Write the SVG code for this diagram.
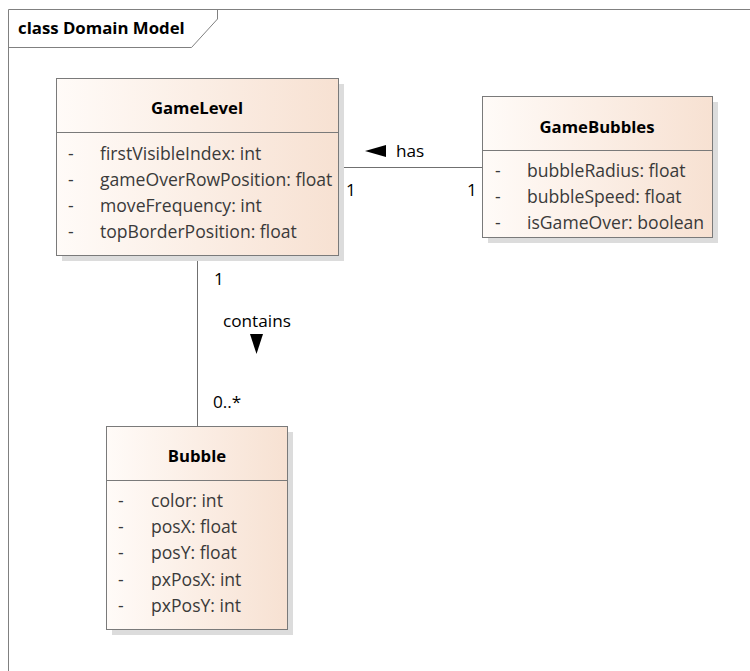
<svg xmlns="http://www.w3.org/2000/svg" width="750" height="671" viewBox="0 0 750 671">
<defs>
  <linearGradient id="fill" x1="0" y1="0" x2="1" y2="0">
    <stop offset="0" stop-color="#fffbf8"/>
    <stop offset="1" stop-color="#f7e1d2"/>
  </linearGradient>
</defs>
<style>
  .frame { fill: none; stroke: #808080; stroke-width: 1; }
  .title { font-family: "Open Sans", "Noto Sans", sans-serif; font-weight: bold; font-size: 16.8px; fill: #000; }
  .shadow { fill: #dcdcdc; }
  .box { fill: url(#fill); stroke: #7a7a7a; stroke-width: 1; }
  .sep { stroke: #7a7a7a; stroke-width: 1; }
  .cname { font-family: "Open Sans", "Noto Sans", sans-serif; font-weight: bold; font-size: 16.7px; fill: #000; text-anchor: middle; }
  .attr { font-family: "Open Sans", "Noto Sans", sans-serif; font-size: 17.6px; fill: #3a3a3a; }
  .conn { stroke: #707070; stroke-width: 1; fill: none; }
  .lbl { font-family: "Open Sans", "Noto Sans", sans-serif; font-size: 17.2px; fill: #000; }
  .arrow { fill: #000; }
</style>

<g id="frame">
  <path class="frame" d="M8.5,671 V9.5 H750"/>
  <path class="frame" d="M8.5,47.5 H191.5 L217.5,19 V9.5"/>
  <text class="title" x="18" y="34">class Domain Model</text>
</g>

<g id="connectors">
  <line class="conn" x1="338" y1="167.5" x2="482" y2="167.5"/>
  <line class="conn" x1="197.5" y1="255" x2="197.5" y2="426"/>
  <polygon class="arrow" points="365,151 386,145 386,157"/>
  <text class="lbl" x="396" y="157">has</text>
  <text class="lbl" x="346" y="196">1</text>
  <text class="lbl" x="467" y="196">1</text>
  <polygon class="arrow" points="250,334 263,334 256.5,354"/>
  <text class="lbl" x="223" y="327">contains</text>
  <text class="lbl" x="214" y="285">1</text>
  <text class="lbl" x="213" y="408">0..*</text>
</g>

<g id="GameLevel">
  <rect class="shadow" x="62" y="84" width="282" height="177"/>
  <rect class="box" x="56.5" y="78.5" width="282" height="177"/>
  <line class="sep" x1="56.5" y1="132.5" x2="338.5" y2="132.5"/>
  <text class="cname" x="197" y="114">GameLevel</text>
  <text class="attr" x="68" y="160">-</text>
  <text class="attr" x="100" y="160">firstVisibleIndex: int</text>
  <text class="attr" x="68" y="186">-</text>
  <text class="attr" x="100" y="186">gameOverRowPosition: float</text>
  <text class="attr" x="68" y="212">-</text>
  <text class="attr" x="100" y="212">moveFrequency: int</text>
  <text class="attr" x="68" y="238">-</text>
  <text class="attr" x="100" y="238">topBorderPosition: float</text>
</g>

<g id="GameBubbles">
  <rect class="shadow" x="488" y="102" width="230" height="141"/>
  <rect class="box" x="482.5" y="96.5" width="230" height="141"/>
  <line class="sep" x1="482.5" y1="150.5" x2="712.5" y2="150.5"/>
  <text class="cname" x="597" y="133">GameBubbles</text>
  <text class="attr" x="495" y="177">-</text>
  <text class="attr" x="527" y="177">bubbleRadius: float</text>
  <text class="attr" x="495" y="203">-</text>
  <text class="attr" x="527" y="203">bubbleSpeed: float</text>
  <text class="attr" x="495" y="229">-</text>
  <text class="attr" x="527" y="229">isGameOver: boolean</text>
</g>

<g id="Bubble">
  <rect class="shadow" x="112" y="432" width="181" height="203"/>
  <rect class="box" x="106.5" y="426.5" width="181" height="203"/>
  <line class="sep" x1="106.5" y1="480.5" x2="287.5" y2="480.5"/>
  <text class="cname" x="197" y="462">Bubble</text>
  <text class="attr" x="118" y="507">-</text>
  <text class="attr" x="151" y="507">color: int</text>
  <text class="attr" x="118" y="533">-</text>
  <text class="attr" x="151" y="533">posX: float</text>
  <text class="attr" x="118" y="559">-</text>
  <text class="attr" x="151" y="559">posY: float</text>
  <text class="attr" x="118" y="586">-</text>
  <text class="attr" x="151" y="586">pxPosX: int</text>
  <text class="attr" x="118" y="612">-</text>
  <text class="attr" x="151" y="612">pxPosY: int</text>
</g>
</svg>
